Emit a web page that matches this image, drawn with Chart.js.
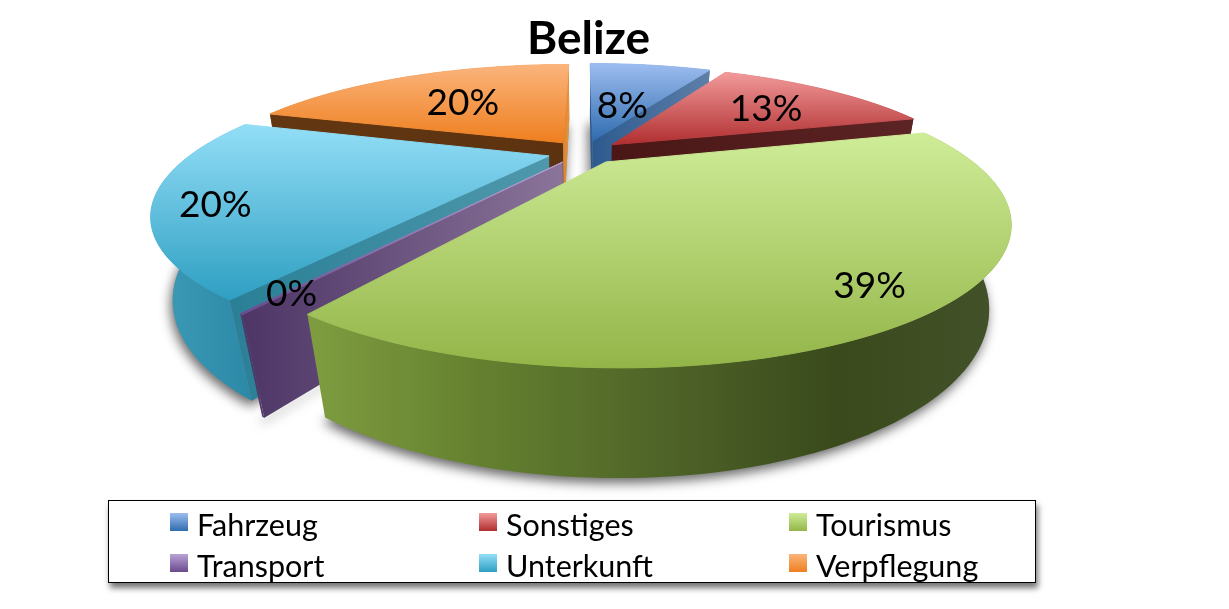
<!DOCTYPE html>
<html lang="de">
<head>
<meta charset="UTF-8">
<title>Belize</title>
<script src="https://cdn.jsdelivr.net/npm/chart.js"></script>
<style>
  body { margin: 0; background: #fff; overflow: hidden; font-family: Lato, sans-serif; }
  #wrap { position: relative; width: 1229px; height: 609px; }
  #legend {
    position: absolute; left: 108px; top: 500px; width: 926px; height: 81px;
    border: 1.5px solid #000; background: #fff;
    box-shadow: 2px 5px 6px rgba(0, 0, 0, 0.55);
  }
  .entry { position: absolute; font-size: 30.5px; line-height: 36px; color: #000; white-space: nowrap; }
  .entry i { position: absolute; left: -27px; top: 7px; width: 18px; height: 18px; }
</style>
</head>
<body>
<div id="wrap">
  <canvas id="pie" width="1229" height="609"></canvas>
  <div id="legend"></div>
</div>

<script>
  const chartTitle = 'Belize';
  const categories = ['Fahrzeug', 'Sonstiges', 'Tourismus', 'Transport', 'Unterkunft', 'Verpflegung'];
  const shares = [7.7, 13.1, 38.7, 0.1, 20.2, 20.2];

  // colours per slice
  const topColors = [['#9dbdf0', '#2f6cae'], ['#f29a9a', '#b02e30'], ['#cfec98', '#93b548'],
                     ['#b9a3d6', '#6a4a8e'], ['#93def7', '#2e9fc2'], ['#fbb47c', '#ee7f1f']];
  const wallColors = [['#3a6ea8', '#2c5a8f'], ['#5e2020', '#4a1818'],
                      ['#7f9d40', '#64802f', '#4f6428', '#3a4a1c', '#43522a'],
                      ['#4f3768', '#4f3768'], ['#3e9cb8', '#2a88a6'], ['#a8601c', '#8a4a12']];
  const startSide = [['#2c5a8f', '#2c5a8f'], ['#4e1a1a', '#4e1a1a'], ['#7f9d40', '#7f9d40'],
                     ['#4d3566', '#8a7499'], ['#2a7f96', '#4f98ac'], ['#633711', '#5c3210']];
  const endSide = [['#5f7fa8', '#2c5a8f'], ['#5c2424', '#4a1616'], ['#7f9d40', '#7f9d40'],
                   ['#4d3566', '#8a7499'], ['#3a8aa0', '#3a8aa0'], ['#e8923f', '#d9822e']];
  const labelRadius = [0.44, 0.68, 0.86, 0.89, 0.86, 0.60];
  const labelTurn = [0, 0, 0, 0, -0.06, 0];
  // back to front
  const drawOrder = [0, 5, 1, 4, 3, 2];

  // camera of the tilted pie: unit disc -> screen
  const cam = { cx: 584, cy: 152, ax: 355, ay: 115, az: 78, pv: 0.39, pz: 0.044 };

  function project(u, v, z) {
    const w = 1 + cam.pv * v + cam.pz * z;
    return [cam.cx + cam.ax * u / w, cam.cy - cam.ay * v / w + cam.az * z / w];
  }

  function rimPoints(el) {
    const ex = el.options.offset / el.outerRadius;
    const mid = (el.startAngle + el.endAngle) / 2;
    const ox = ex * Math.cos(mid), oy = -ex * Math.sin(mid);
    const pts = [];
    const steps = Math.max(2, Math.ceil((el.endAngle - el.startAngle) * 40));
    for (let i = 0; i <= steps; i++) {
      const a = el.startAngle + (el.endAngle - el.startAngle) * i / steps;
      pts.push([ox + Math.cos(a), oy - Math.sin(a)]);
    }
    return { ox, oy, pts };
  }

  function path(ctx, poly) {
    ctx.beginPath();
    poly.forEach((p, i) => i ? ctx.lineTo(p[0], p[1]) : ctx.moveTo(p[0], p[1]));
    ctx.closePath();
  }

  function gradient(ctx, poly, colors, horizontal) {
    const xs = poly.map(p => p[0]), ys = poly.map(p => p[1]);
    const g = horizontal
      ? ctx.createLinearGradient(Math.min(...xs), 0, Math.max(...xs), 0)
      : ctx.createLinearGradient(0, Math.min(...ys), 0, Math.max(...ys));
    colors.forEach((c, i) => g.addColorStop(i / (colors.length - 1), c));
    return g;
  }

  function fillPoly(ctx, poly, fill, edge) {
    path(ctx, poly);
    ctx.fillStyle = fill;
    ctx.fill();
    if (edge) {
      ctx.strokeStyle = fill;
      ctx.lineWidth = edge;
      ctx.stroke();
    }
  }

  function area(poly) {
    let s = 0;
    poly.forEach((p, i) => {
      const q = poly[(i + 1) % poly.length];
      s += p[0] * q[1] - q[0] * p[1];
    });
    return s;
  }

  function sideQuad(r, rim) {
    return [project(r.ox, r.oy, 0), project(rim[0], rim[1], 0), project(rim[0], rim[1], 1), project(r.ox, r.oy, 1)];
  }

  function drawSlice(ctx, el, i) {
    const r = rimPoints(el);
    const top = [project(r.ox, r.oy, 0)].concat(r.pts.map(p => project(p[0], p[1], 0)));
    const wall = r.pts.map(p => project(p[0], p[1], 0))
      .concat(r.pts.slice().reverse().map(p => project(p[0], p[1], 1)));

    fillPoly(ctx, wall, gradient(ctx, wall, wallColors[i], true));

    const first = sideQuad(r, r.pts[0]);
    const last = sideQuad(r, r.pts[r.pts.length - 1]);
    if (area(first) < 0) {
      const g = ctx.createLinearGradient(first[1][0], 0, first[0][0], 0);
      g.addColorStop(0, startSide[i][0]);
      g.addColorStop(1, startSide[i][1]);
      fillPoly(ctx, first, g);
    }
    if (area(last) > 0) {
      const g = ctx.createLinearGradient(last[1][0], 0, last[0][0], 0);
      g.addColorStop(0, endSide[i][0]);
      g.addColorStop(1, endSide[i][1]);
      fillPoly(ctx, last, g);
    }
    fillPoly(ctx, top, gradient(ctx, top, topColors[i], false), 1);
  }

  // soft shadow thrown by the underside of a slice
  function drawShadow(ctx, el) {
    const r = rimPoints(el);
    const outline = [project(r.ox, r.oy, 1)].concat(r.pts.map(p => project(p[0], p[1], 1)));
    ctx.save();
    ctx.shadowColor = 'rgba(0,0,0,0.6)';
    ctx.shadowBlur = 12;
    ctx.shadowOffsetX = -2;
    ctx.shadowOffsetY = 5;
    path(ctx, outline);
    ctx.fillStyle = '#888';
    ctx.fill();
    ctx.restore();
  }

  const tiltedPie = {
    id: 'tiltedPie',
    beforeDatasetDraw(chart, args) {
      const ctx = chart.ctx;
      const els = chart.getDatasetMeta(args.index).data;

      ctx.save();
      drawOrder.forEach(i => drawShadow(ctx, els[i]));
      drawOrder.forEach(i => drawSlice(ctx, els[i], i));

      ctx.fillStyle = '#000';
      ctx.font = '37px Lato, sans-serif';
      ctx.textAlign = 'center';
      ctx.textBaseline = 'middle';
      els.forEach((el, i) => {
        const r = rimPoints(el);
        const mid = (el.startAngle + el.endAngle) / 2 + labelTurn[i];
        const p = project(r.ox + labelRadius[i] * Math.cos(mid), r.oy - labelRadius[i] * Math.sin(mid), 0);
        ctx.fillText(Math.round(shares[i]) + '%', p[0], p[1] + 4);
      });
      ctx.restore();
      return false;
    }
  };

  new Chart(document.getElementById('pie'), {
    type: 'pie',
    data: {
      labels: categories,
      datasets: [{ data: shares, offset: 26, borderWidth: 0, backgroundColor: topColors.map(c => c[1]) }]
    },
    options: {
      responsive: false,
      animation: false,
      events: [],
      layout: { padding: { right: 52 } },
      plugins: {
        legend: { display: false },
        tooltip: { enabled: false },
        title: {
          display: true,
          text: chartTitle,
          color: '#000',
          font: { family: 'Lato, sans-serif', size: 46, weight: 'bold', lineHeight: 1.2 },
          padding: { top: 12, bottom: 10 }
        }
      }
    },
    plugins: [tiltedPie]
  });

  // legend box, three columns by two rows
  const legend = document.getElementById('legend');
  categories.forEach((name, i) => {
    const entry = document.createElement('div');
    entry.className = 'entry';
    entry.style.left = [88, 397, 707][i % 3] + 'px';
    entry.style.top = [5, 46][Math.floor(i / 3)] + 'px';
    const swatch = document.createElement('i');
    swatch.style.background = 'linear-gradient(' + topColors[i][0] + ',' + topColors[i][1] + ')';
    entry.appendChild(swatch);
    entry.appendChild(document.createTextNode(name));
    legend.appendChild(entry);
  });
</script>
</body>
</html>
